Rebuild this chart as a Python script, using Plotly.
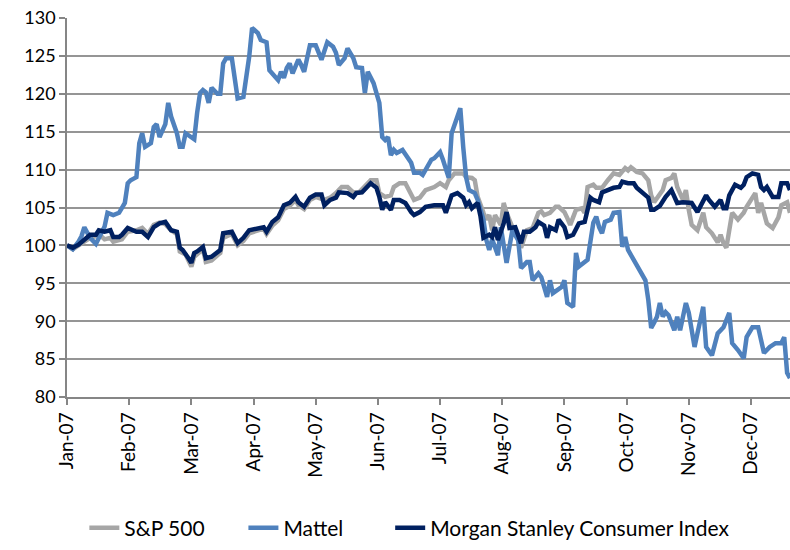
import plotly.graph_objects as go

# x = trading-day index from the start of 2007 (about 21.5 trading days per month)
month_labels = ["Jan-07", "Feb-07", "Mar-07", "Apr-07", "May-07", "Jun-07",
                "Jul-07", "Aug-07", "Sep-07", "Oct-07", "Nov-07", "Dec-07"]
month_days = [i * 21.5 for i in range(12)]

sp_days = [0, 2, 4, 6, 8, 10, 11, 13, 15, 16, 18, 19, 21, 24, 26, 28, 30, 32, 34, 36,
           38, 39, 41, 42, 43, 44, 45, 47, 48, 50, 52, 53, 54, 56, 57, 59, 61, 63, 66, 68,
           69, 71, 73, 74, 75, 77, 79, 80, 82, 84, 86, 89, 91, 93, 95, 97, 99, 101, 103, 105,
           107, 108, 110, 112, 113, 115, 117, 119, 120, 122, 124, 127, 129, 131, 132, 134, 137, 138, 140, 141,
           142, 144, 145, 146, 147, 148, 150, 151, 152, 154, 156, 157, 159, 161, 163, 164, 165, 167, 169, 170,
           172, 173, 174, 175, 176, 178, 179, 180, 182, 183, 185, 187, 189, 191, 193, 194, 195, 197, 199, 201,
           202, 203, 204, 206, 207, 209, 210, 211, 213, 214, 215, 216, 218, 220, 221, 223, 225, 226, 227, 228,
           229, 230, 232, 234, 235, 237, 238, 239, 240, 242, 244, 246, 247, 249, 250]
sp_values = [100, 99.5, 100, 100.5, 101, 101.2, 101.5, 100.8, 101, 100.5, 100.6, 100.8, 101.8, 102, 102.3, 101.5, 102.7, 103, 102.8, 102,
             101.5, 99.2, 98.8, 97.8, 97.2, 98.5, 98.8, 99.5, 97.8, 98, 98.7, 99, 101, 101.3, 101.5, 100, 100.6, 101.6, 102, 102.2,
             101.5, 102.6, 103.3, 104, 104.8, 105.2, 106, 105.3, 104.8, 106, 106.4, 106, 106.3, 106.9, 107.7, 107.7, 107, 107, 107.7, 108.6,
             108.6, 106.9, 106.4, 106.6, 107.7, 108.2, 108.2, 106.9, 106, 106.3, 107.3, 107.7, 108.2, 107.7, 108.6, 109.5, 109.5, 109, 108.9, 108.6,
             106.4, 104.3, 103.4, 104, 102, 104, 102.7, 105.6, 104.3, 102.4, 101.1, 99.7, 102, 102.3, 104.3, 104.5, 104, 104.3, 105.1, 105.1,
             104.4, 103.6, 102.7, 103.7, 104.7, 104.9, 104.3, 107.7, 108, 107.6, 107.6, 108.6, 109.5, 109.3, 110.2, 109.9, 110.3, 109.7, 109.5, 108.6,
             106.6, 105.7, 106.3, 107.3, 108.6, 108.9, 109.5, 107.7, 106, 107.3, 104.7, 102.7, 102, 104.3, 102.4, 101.6, 100.4, 101.4, 100.3, 99.7,
             102, 104.3, 103.4, 104.3, 105.1, 106.4, 106.9, 104.3, 105.6, 102.9, 102.3, 103.7, 105.3, 105.7, 104.3]

mattel_days = [0, 2, 4, 5, 6, 8, 10, 11, 13, 14, 16, 18, 20, 21, 22, 24, 25, 26, 27, 29,
               30, 31, 32, 34, 35, 36, 37, 38, 39, 40, 41, 43, 44, 45, 46, 47, 48, 49, 50, 52,
               53, 54, 55, 57, 58, 59, 61, 62, 63, 64, 66, 67, 69, 70, 72, 73, 74, 75, 76, 77,
               78, 80, 81, 82, 84, 86, 88, 90, 92, 93, 94, 96, 97, 99, 100, 102, 103, 104, 106, 108,
               109, 110, 111, 112, 113, 114, 116, 118, 119, 120, 122, 123, 126, 127, 129, 130, 132, 133, 135, 136,
               137, 138, 139, 141, 142, 144, 145, 146, 147, 149, 150, 152, 154, 156, 157, 159, 160, 161, 163, 164,
               166, 167, 168, 171, 172, 173, 175, 176, 177, 179, 180, 182, 183, 184, 185, 186, 188, 189, 191, 192,
               193, 194, 196, 198, 200, 201, 202, 203, 204, 205, 206, 207, 208, 210, 211, 212, 214, 215, 217, 218,
               220, 221, 223, 225, 227, 229, 230, 232, 234, 235, 237, 239, 240, 241, 243, 245, 247, 248, 249, 250]
mattel_values = [100, 99.5, 100.5, 101.2, 102.4, 101, 100.2, 101, 102.5, 104.3, 104, 104.3, 105.6, 108.2, 108.6, 109, 113.5, 114.8, 113, 113.5,
                 115.6, 116, 114.3, 116, 118.8, 117, 116, 114.8, 113, 113, 114.8, 114.2, 114, 117.5, 120.1, 120.5, 120.2, 118.8, 120.8, 120,
                 120, 124, 124.7, 124.7, 122.2, 119.4, 119.6, 122.2, 124.9, 128.7, 128, 127.1, 126.8, 123.1, 122.2, 121.8, 122.9, 122.1, 123.4, 124,
                 122.7, 124.5, 123.8, 122.9, 126.4, 126.4, 124.5, 126.8, 126.2, 125.4, 123.8, 124.7, 126, 124.7, 123.5, 123.4, 120.1, 122.9, 121.4, 118.8,
                 114.3, 113.9, 114.3, 111.9, 112.6, 112.2, 112.6, 111.3, 110.9, 109.6, 109.6, 109.3, 111.3, 111.5, 112.3, 111.3, 108.9, 114.8, 116.8, 118.1,
                 113, 109, 107.3, 106.9, 106, 103.4, 100.7, 99.4, 100.8, 98.7, 102.4, 97.7, 102, 100.7, 97, 97.8, 97.8, 95.4, 96.3, 95.8,
                 93.2, 95.4, 93.7, 94.5, 95.4, 92.4, 91.9, 99, 97.2, 97.7, 98.1, 103, 103.8, 102.4, 101.6, 103.1, 103.4, 104.3, 104.4, 99.8,
                 101.1, 99.4, 98.1, 96.8, 95.4, 92.8, 89.1, 89.8, 90.6, 92.4, 90.6, 91.2, 90.8, 88.8, 90.6, 88.8, 92.4, 91.1, 86.6, 88.4,
                 91.9, 86.6, 85.5, 88.4, 89.2, 91.1, 87.1, 86.2, 85.1, 87.9, 89.2, 89.2, 87.5, 85.8, 86.6, 87.1, 87.1, 87.9, 83.2, 82.5]

msci_days = [0, 2, 4, 6, 8, 10, 11, 13, 15, 16, 18, 19, 21, 24, 26, 28, 30, 32, 34, 36,
             38, 39, 40, 42, 43, 44, 45, 47, 48, 50, 52, 53, 54, 56, 57, 59, 61, 63, 66, 68,
             69, 71, 73, 74, 75, 77, 79, 80, 82, 84, 86, 88, 89, 91, 93, 94, 97, 99, 100, 102,
             104, 105, 107, 108, 109, 110, 112, 113, 115, 117, 119, 120, 122, 124, 127, 130, 131, 133, 135, 137,
             138, 139, 140, 142, 143, 144, 146, 147, 148, 149, 151, 152, 153, 155, 157, 158, 160, 162, 163, 165,
             166, 167, 169, 170, 172, 173, 175, 176, 177, 179, 181, 182, 184, 185, 187, 189, 191, 192, 194, 196,
             197, 199, 201, 202, 203, 205, 207, 209, 210, 211, 213, 215, 216, 218, 220, 221, 222, 224, 226, 227,
             228, 229, 231, 233, 234, 235, 237, 239, 240, 241, 242, 244, 246, 247, 249, 250]
msci_values = [100, 99.7, 100.1, 100.7, 101.4, 101.4, 102, 101.8, 102, 101.1, 101.1, 101.4, 102.3, 101.8, 101.8, 101.1, 102.4, 102.9, 103.1, 102,
               101.8, 99.7, 99.4, 98.3, 97.7, 99, 99.2, 99.8, 98.3, 98.5, 99, 99.4, 101.6, 101.8, 101.8, 100.3, 101, 102, 102.3, 102.4,
               101.8, 103.1, 103.7, 104.4, 105.3, 105.6, 106.4, 105.7, 105.1, 106.3, 106.7, 106.7, 105.3, 106, 106.3, 107, 106.9, 106.4, 106.9, 107,
               107.7, 108.2, 107.6, 106.4, 104.7, 105.7, 104.7, 106, 106, 105.6, 104.4, 104, 104.4, 105.1, 105.3, 105.3, 104.3, 106.6, 106.9, 106.3,
               105.3, 105.7, 104.9, 105.6, 103.8, 101, 101.4, 101.1, 102.4, 100.7, 102.9, 104.4, 102.3, 102.4, 100.3, 101.8, 101.8, 102.4, 103.1, 102.6,
               101, 102.4, 102, 103.4, 102.4, 101.1, 101.4, 102.3, 102.9, 103.1, 106.3, 106, 105.7, 107, 107.3, 107.6, 107.7, 108.4, 108.2, 108.2,
               107.6, 107, 106.3, 104.7, 104.7, 105.2, 106.4, 107.3, 106.6, 105.6, 105.7, 105.6, 105.6, 104.4, 106, 106.6, 106, 105.1, 106, 104.9,
               104.9, 106.6, 108, 107.6, 108, 109, 109.5, 109.3, 107.7, 107.3, 107.7, 106.4, 106.4, 108.2, 108.2, 107.3]

font = "Lato, 'Open Sans', sans-serif"

fig = go.Figure()
fig.add_trace(go.Scatter(x=sp_days, y=sp_values, name="S&P 500", mode="lines",
                         line=dict(color="#A6A6A6", width=4.5), legend="legend"))
fig.add_trace(go.Scatter(x=mattel_days, y=mattel_values, name="Mattel", mode="lines",
                         line=dict(color="#4F81BD", width=4.5), legend="legend2"))
fig.add_trace(go.Scatter(x=msci_days, y=msci_values, name="Morgan Stanley Consumer Index", mode="lines",
                         line=dict(color="#002060", width=4.5), legend="legend3"))

# one legend box per series so the entries sit where they do in the original
legend_style = dict(orientation="h", xanchor="left", y=-0.40, yanchor="bottom",
                    font=dict(size=21), bgcolor="rgba(0,0,0,0)")

fig.update_layout(
    width=790, height=550,
    margin=dict(l=67, r=0, t=18, b=153),
    paper_bgcolor="white", plot_bgcolor="white",
    font=dict(family=font, size=18, color="#000000"),
    showlegend=True,
    legend=dict(x=0.024, **legend_style),
    legend2=dict(x=0.244, **legend_style),
    legend3=dict(x=0.447, **legend_style),
    xaxis=dict(
        range=[0, 250], tickmode="array", tickvals=month_days, ticktext=month_labels,
        tickangle=-90, showgrid=False, zeroline=False,
        showline=True, linecolor="#868686", linewidth=1.5,
        ticks="outside", ticklen=6, tickcolor="#868686", tickwidth=1.5,
        tickfont=dict(size=19),
    ),
    yaxis=dict(
        range=[80, 130], dtick=5, tick0=80,
        showgrid=True, gridcolor="#959595", gridwidth=1.5, zeroline=False,
        showline=True, linecolor="#868686", linewidth=1.5,
        ticks="outside", ticklen=6, tickcolor="#868686", tickwidth=1.5,
        tickfont=dict(size=18),
    ),
)

fig.write_html("out.html", config={"displayModeBar": False},
               post_script="document.body.style.margin = '0';")
